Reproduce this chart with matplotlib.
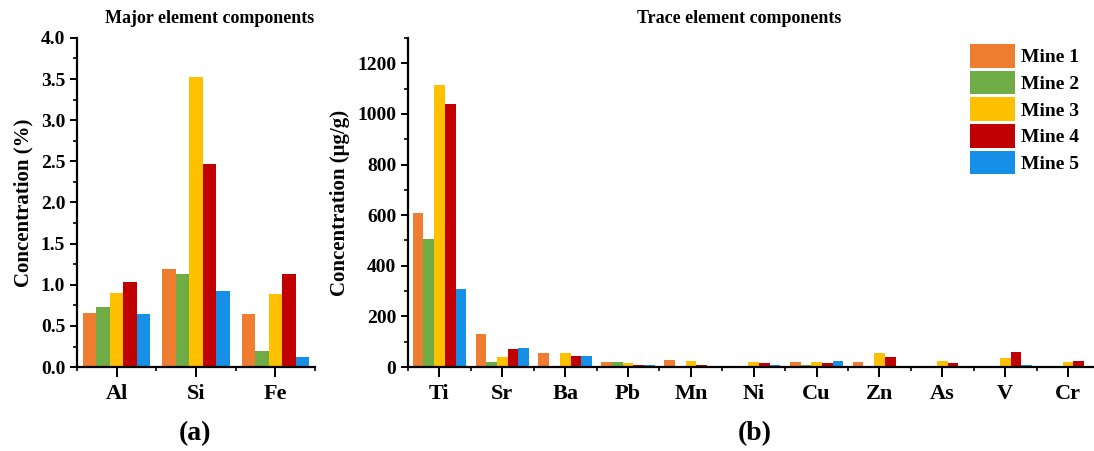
import numpy as np
import matplotlib
matplotlib.use('Agg')
import matplotlib.pyplot as plt
from matplotlib.ticker import MultipleLocator, FixedLocator, FormatStrFormatter

plt.rcParams['font.family'] = 'Liberation Serif'
plt.rcParams['font.weight'] = 'bold'

mines = ['Mine 1', 'Mine 2', 'Mine 3', 'Mine 4', 'Mine 5']
colors = ['#EE7D32', '#6FAC46', '#FFC000', '#C00000', '#1590E6']

# ---- major elements (%) ----
major_el = ['Al', 'Si', 'Fe']
major_vals = [
    [0.66, 1.19, 0.65],   # Mine 1
    [0.73, 1.13, 0.19],   # Mine 2
    [0.90, 3.53, 0.89],   # Mine 3
    [1.04, 2.47, 1.13],   # Mine 4
    [0.65, 0.92, 0.12],   # Mine 5
]

# ---- trace elements (ug/g) ----
trace_el = ['Ti', 'Sr', 'Ba', 'Pb', 'Mn', 'Ni', 'Cu', 'Zn', 'As', 'V', 'Cr']
trace_vals = [
    [610, 130, 55, 20, 30, 5, 20, 20, 3, 5, 5],       # Mine 1
    [505, 20, 5, 20, 5, 5, 10, 5, 3, 5, 5],           # Mine 2
    [1115, 40, 55, 15, 25, 20, 20, 55, 25, 35, 20],   # Mine 3
    [1040, 70, 45, 10, 10, 15, 15, 40, 15, 60, 25],   # Mine 4
    [310, 75, 45, 10, 3, 10, 25, 5, 3, 10, 5],        # Mine 5
]

fig = plt.figure(figsize=(10.94, 4.51), dpi=100)
ax1 = fig.add_axes([0.0704, 0.186, 0.2176, 0.730])
ax2 = fig.add_axes([0.373, 0.186, 0.632, 0.730])

bw = 0.17

def style(ax, n):
    for s in ['top', 'right']:
        ax.spines[s].set_visible(False)
    for s in ['left', 'bottom']:
        ax.spines[s].set_linewidth(1.6)
    ax.set_xticks(range(n))
    ax.xaxis.set_minor_locator(FixedLocator(np.arange(-0.5, n, 1.0)))
    ax.tick_params(axis='both', which='major', direction='out', width=1.4, length=5,
                   labelsize=14)
    ax.tick_params(axis='both', which='minor', direction='out', width=1.2, length=3)
    ax.tick_params(axis='x', which='major', length=7, labelsize=16, pad=5)

x = np.arange(len(major_el))
for i, m in enumerate(mines):
    ax1.bar(x + (i - 2) * bw, major_vals[i], bw, color=colors[i], label=m)
style(ax1, len(major_el))
ax1.set_xlim(-0.5, 2.5)
ax1.set_ylim(0, 4.0)
ax1.yaxis.set_major_locator(MultipleLocator(0.5))
ax1.yaxis.set_minor_locator(MultipleLocator(0.25))
ax1.set_xticklabels(major_el, fontweight='bold')
ax1.yaxis.set_major_formatter(FormatStrFormatter('%.1f'))
ax1.set_ylabel('Concentration (%)', fontsize=15, fontweight='bold', labelpad=5)

x2 = np.arange(len(trace_el))
for i, m in enumerate(mines):
    ax2.bar(x2 + (i - 2) * bw, trace_vals[i], bw, color=colors[i], label=m)
style(ax2, len(trace_el))
ax2.set_xlim(-0.5, 10.5)
ax2.set_ylim(0, 1300)
ax2.yaxis.set_major_locator(MultipleLocator(200))
ax2.yaxis.set_minor_locator(MultipleLocator(100))
ax2.set_xticklabels(trace_el, fontweight='bold')
ax2.set_ylabel('Concentration (\u03bcg/g)', fontsize=15, fontweight='bold', labelpad=5)

for lab in ax1.get_yticklabels() + ax2.get_yticklabels():
    lab.set_fontweight('bold')

leg = fig.legend(*ax2.get_legend_handles_labels(), loc='upper left',
                 bbox_to_anchor=(970 / 1094, 1 - 44 / 451), frameon=False,
                 fontsize=14, handlelength=2.3, handleheight=1.5,
                 labelspacing=0.15, handletextpad=0.3, borderaxespad=0, borderpad=0)
for t in leg.get_texts():
    t.set_fontweight('bold')

fig.text(0.192, 0.958, 'Major element components', ha='center', va='center',
         fontsize=13, fontweight='bold')
fig.text(0.676, 0.958, 'Trace element components', ha='center', va='center',
         fontsize=13, fontweight='bold')
fig.text(0.178, 0.038, '(a)', ha='center', va='center', fontsize=20, fontweight='bold')
fig.text(0.690, 0.038, '(b)', ha='center', va='center', fontsize=20, fontweight='bold')

fig.savefig('out.png', dpi=100, facecolor='white')
